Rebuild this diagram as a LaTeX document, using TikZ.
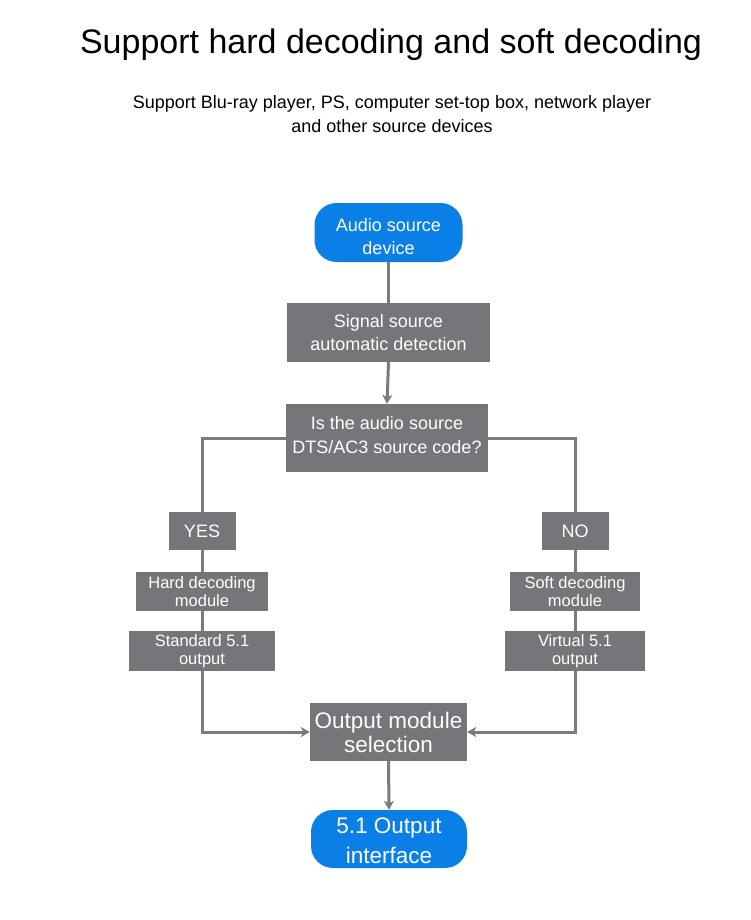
\documentclass[tikz,border=0pt]{standalone}
\usepackage{fontspec}
\setmainfont{Liberation Sans}
\usetikzlibrary{arrows.meta}
\definecolor{srcblue}{HTML}{0A7FE6}
\definecolor{boxgrey}{HTML}{75757A}
\definecolor{linegrey}{HTML}{7A7A80}
\tikzset{
  base/.style={inner sep=0pt, align=center, text=white},
  pill/.style={base, fill=srcblue, rounded corners=22pt},
  gbox/.style={base, fill=boxgrey},
  conn/.style={draw=linegrey, line width=3pt},
  arr/.style={conn, -{Stealth[length=9pt,width=10pt,inset=2.5pt]}},
  fA/.style={font=\fontsize{18}{23.5}\selectfont},
  fB/.style={font=\fontsize{16.5}{18.5}\selectfont},
  fC/.style={font=\fontsize{22.5}{24}\selectfont},
  fD/.style={font=\fontsize{22.5}{30}\selectfont},
  txt/.style={inner sep=0pt, align=center, text=white},
}
\begin{document}
\begin{tikzpicture}[x=1pt,y=-1pt]
\useasboundingbox (0,0) rectangle (750,920);
\node[font=\fontsize{34}{40}\selectfont] (title) at (391,45) {Support hard decoding and soft decoding};
\node[align=center, font=\fontsize{18}{24}\selectfont] (sub) at (392,114) {Support Blu-ray player, PS, computer set-top box, network player\\and other source devices};

\node[pill, minimum width=148pt, minimum height=59pt,
  label={[txt, fA, yshift=-4pt]center:{Audio source\\device}}] (audio) at (388.5,232.5) {};
\node[gbox, fA, minimum width=203pt, minimum height=59pt] (sig) at (388.5,332.5) {Signal source\\automatic detection};
\node[gbox, minimum width=202pt, minimum height=68pt,
  label={[txt, fA, yshift=3pt]center:{Is the audio source\\DTS/AC3 source code?}}] (dec) at (387,438) {};
\node[gbox, fA, minimum width=67pt, minimum height=38pt] (yes) at (202,531) {YES};
\node[gbox, fA, minimum width=67pt, minimum height=38pt] (no) at (575,531) {NO};
\node[gbox, fB, minimum width=132pt, minimum height=39pt] (hard) at (202,591.5) {Hard decoding\\module};
\node[gbox, fB, minimum width=146pt, minimum height=40pt] (std) at (202,651) {Standard 5.1\\output};
\node[gbox, fB, minimum width=130pt, minimum height=39pt] (soft) at (575,591.5) {Soft decoding\\module};
\node[gbox, fB, minimum width=140pt, minimum height=40pt] (virt) at (575,651) {Virtual 5.1\\output};
\node[gbox, fC, minimum width=157pt, minimum height=58pt] (sel) at (388.5,732) {Output module\\selection};
\node[pill, minimum width=156pt, minimum height=58pt,
  label={[txt, fD, yshift=-1.5pt]center:{5.1 Output\\interface}}] (out) at (389,839) {};

\draw[conn] (audio.south) -- (sig.north);
\draw[arr] (sig.south) -- (dec.north);
\draw[conn] (dec.west) -| (yes.north);
\draw[conn] (dec.east) -| (no.north);
\draw[conn] (yes.south) -- (hard.north);
\draw[conn] (hard.south) -- (std.north);
\draw[conn] (no.south) -- (soft.north);
\draw[conn] (soft.south) -- (virt.north);
\draw[arr] (std.south) |- (sel.west);
\draw[arr] (virt.south) |- (sel.east);
\draw[arr] (sel.south) -- (out.north);
\end{tikzpicture}
\end{document}
